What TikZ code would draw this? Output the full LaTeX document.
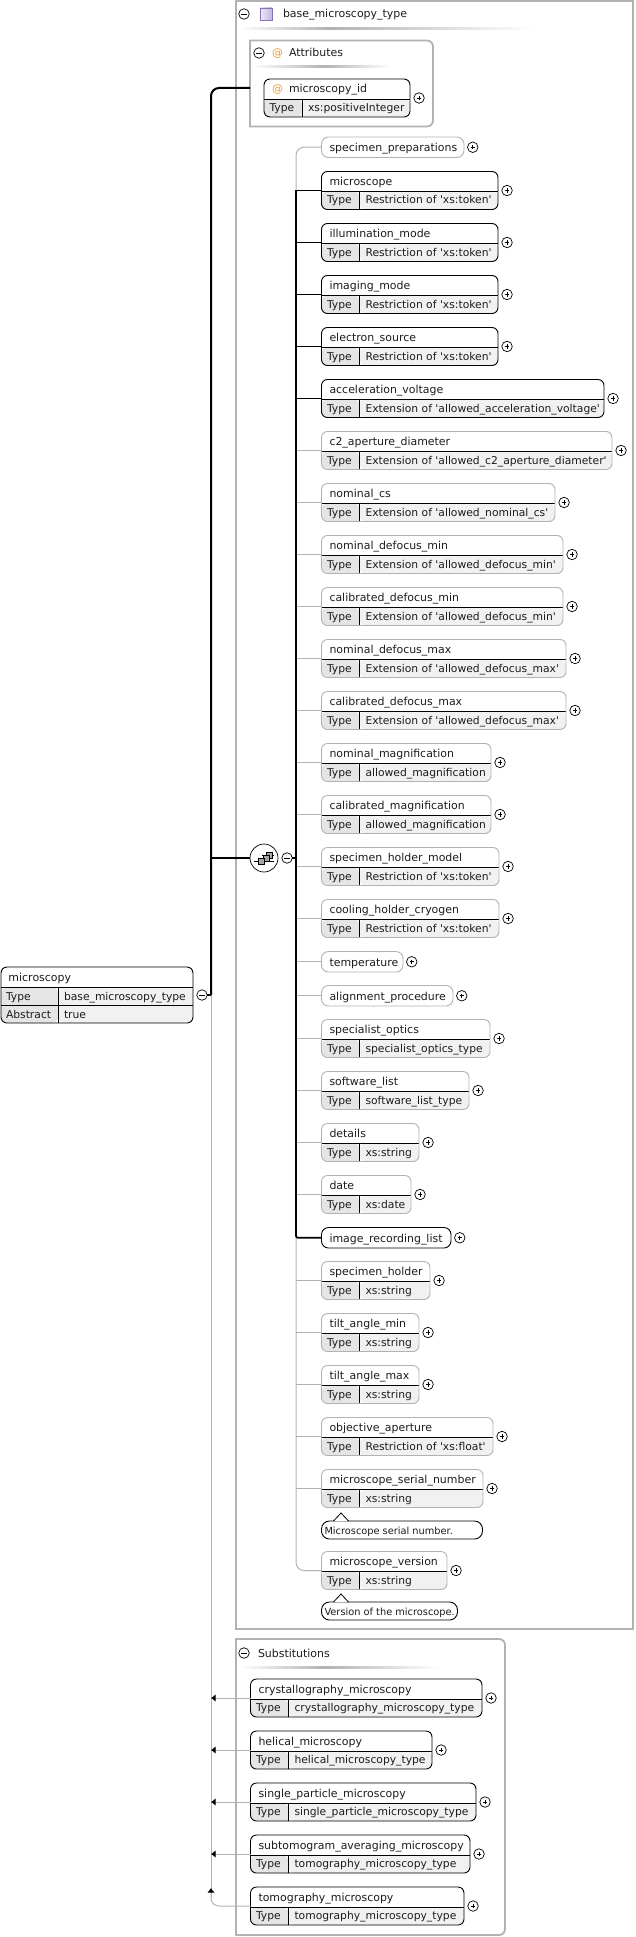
\documentclass[tikz,border=0pt]{standalone}
\usepackage{fontspec}
\usepackage{xcolor}
\usepackage{tikz}
\usetikzlibrary{arrows.meta, positioning}
\newfontfamily\diagfont{DejaVu Sans}
\definecolor{linegray}{HTML}{B2B2B2}
\definecolor{keycell}{HTML}{E5E5E5}
\definecolor{valcell}{HTML}{F1F1F1}
\definecolor{atsign}{HTML}{E59A38}
\definecolor{inktext}{HTML}{1C1C1C}
\definecolor{iconedge}{HTML}{8672B4}
\definecolor{iconlight}{HTML}{EDE8F6}
\definecolor{icondark}{HTML}{C4B6E0}

% element with a title row and a Type row
\newcommand{\elem}[8][8]{%
  \node[elembox, style/.expanded={#8}, minimum width={(#5-#3)*1pt}, minimum height=38pt,
    path picture={
      \fill[keycell] (path picture bounding box.north west) ++(0,20) rectangle ++(38,20);
      \fill[valcell] (path picture bounding box.north west) ++(38,20) rectangle (path picture bounding box.south east);
      \draw[draw=black, line width=.8pt] (path picture bounding box.north west) ++(0,20) -- ++(#5-#3,0);
      \draw[draw=black, line width=.8pt] (path picture bounding box.north west) ++(38,20) -- ++(0,20);
    }] (#2) at (#3,#4) {};
  \node[titletext] (#2-title) at ([shift={(#1,14)}]#2.north west) {#6};
  \node[labeltext] (#2-key) at ([shift={(5.5,32.5)}]#2.north west) {Type};
  \node[labeltext] (#2-val) at ([shift={(44,32.5)}]#2.north west) {#7};
  \node[plusnode, right=3.8pt of #2] (#2-plus) {};
}

\begin{document}
\begin{tikzpicture}[
  x=1pt, y=-1pt,
  labeltext/.style={inner sep=0, outer sep=0, anchor=base west, text=inktext, font=\fontsize{10.75}{12}\diagfont},
  titletext/.style={labeltext, font=\fontsize{10.95}{12}\diagfont},
  notetext/.style={inner sep=0, outer sep=0, anchor=base west, text=inktext, font=\fontsize{9.8}{12}\diagfont},
  elembox/.style={draw, rounded corners=6pt, inner sep=0, outer sep=0, anchor=north west, fill=white},
  reqbox/.style={draw=black, line width=.9pt},
  optbox/.style={draw=linegray, line width=.9pt},
  notebox/.style={draw=black, line width=.9pt, rounded corners=8pt, inner sep=0, outer sep=0, anchor=north west, minimum height=18pt, fill=white},
  circlenode/.style={circle, draw=black, line width=.7pt, fill=white, inner sep=0, outer sep=0, minimum size=10.5pt},
  plusnode/.style={circlenode, path picture={
      \draw[line width=.7pt] (path picture bounding box.center) ++(-2.2,0) -- ++(4.4,0);
      \draw[line width=.7pt] (path picture bounding box.center) ++(0,-2.2) -- ++(0,4.4);}},
  minusnode/.style={circlenode, path picture={
      \draw[line width=.7pt] (path picture bounding box.center) ++(-2.6,0) -- ++(5.2,0);}},
  groupline/.style={draw=linegray, line width=1.8pt},
  optline/.style={draw=linegray, line width=1pt},
  reqline/.style={draw=black, line width=1.5pt},
  boldline/.style={draw=black, line width=2pt},
  substarrow/.style={optline, -{Latex[black, length=4.5pt, width=7.5pt]}}
]
\useasboundingbox (0,0) rectangle (636,1937);

% containers
\draw[groupline] (236,.8) rectangle (633,1629);
\draw[groupline] (236,1639) -- (400,1639) [rounded corners=6pt] -- (505,1639) -- (505,1935) -- (400,1935) [sharp corners] -- (236,1935) -- cycle;
\draw[groupline] (250,40.5) -- (340,40.5) [rounded corners=6pt] -- (433,40.5) -- (433,126.5) -- (340,126.5) [sharp corners] -- (250,126.5) -- cycle;
\foreach \xa/\xb/\xc/\yy in {238/330/535/29, 252/325/390/67, 238/325/440/1667} {
  \shade[left color=white, right color=black!30] (\xa,\yy-1) rectangle (\xb,\yy+1);
  \shade[left color=black!30, right color=white] (\xb,\yy-1) rectangle (\xc,\yy+1);
}

\node[minusnode] (basetoggle) at (244,14) {};
\node[draw=iconedge, line width=.8pt, minimum size=12pt, inner sep=0, shade, left color=iconlight, right color=icondark] (baseicon) at (266,14) {};
\node[titletext] (basetitle) at (283,18) {base\_microscopy\_type};
\node[minusnode] (attrtoggle) at (259,53) {};
\node[titletext, text=atsign] (attrsign) at (272,57) {@};
\node[titletext] (attrtitle) at (289,57) {Attributes};
\node[minusnode] (substtoggle) at (244,1653) {};
\node[titletext] (substtitle) at (258,1657) {Substitutions};

% root element
\node[elembox, reqbox, minimum width=192pt, minimum height=56pt,
  path picture={
    \fill[keycell] (path picture bounding box.north west) ++(0,20) rectangle ++(57,36);
    \fill[valcell] (path picture bounding box.north west) ++(57,20) rectangle (path picture bounding box.south east);
    \draw[line width=.8pt] (path picture bounding box.north west) ++(0,20) -- ++(192,0);
    \draw[line width=.8pt] (path picture bounding box.north west) ++(0,38) -- ++(192,0);
    \draw[line width=.8pt] (path picture bounding box.north west) ++(57,20) -- ++(0,36);
  }] (microscopy) at (1,967) {};
\node[titletext] (microscopy-title) at (8.5,981) {microscopy};
\node[labeltext] (microscopy-typekey) at (6,1000) {Type};
\node[labeltext] (microscopy-typeval) at (64,1000) {base\_microscopy\_type};
\node[labeltext] (microscopy-abskey) at (6,1018) {Abstract};
\node[labeltext] (microscopy-absval) at (64,1018) {true};
\node[minusnode] (microscopytoggle) at (202,995) {};

% sequence symbol
\node[circlenode, minimum size=28pt] (seqgroup) at (264,858) {};
\node[minusnode, right=3.8pt of seqgroup] (seqtoggle) {};
\draw[line width=.9pt] ([shift={(-10,3)}]seqgroup.center) -- ++(20,0);
\draw[line width=.9pt] ([shift={(-2,-2.5)}]seqgroup.center) -- ++(12,0);
\foreach \dx/\dy in {5/-2.5, 2.5/0, -2.5/3} {
  \node[draw=black, fill=gray!70, line width=.6pt, minimum size=6pt, inner sep=0] at ([shift={(\dx,\dy)}]seqgroup.center) {};
}

% attribute
\elem[25]{mid}{264}{79}{410}{microscopy\_id}{xs:positiveInteger}{reqbox}
\node[titletext, text=atsign] (mid-sign) at (272,93) {@};

% content of the sequence
\foreach \nm/\yt/\xr/\ttl/\typ/\kind in {
  mic/171.5/498/microscope/Restriction of 'xs:token'/reqbox,
  illum/223.5/498/illumination\_mode/Restriction of 'xs:token'/reqbox,
  imaging/275.5/498/imaging\_mode/Restriction of 'xs:token'/reqbox,
  esource/327.5/498/electron\_source/Restriction of 'xs:token'/reqbox,
  accel/379.5/604/acceleration\_voltage/Extension of 'allowed\_acceleration\_voltage'/reqbox,
  caper/431.5/612/c2\_aperture\_diameter/Extension of 'allowed\_c2\_aperture\_diameter'/optbox,
  ncs/483.5/555/nominal\_cs/Extension of 'allowed\_nominal\_cs'/optbox,
  ndmin/535.5/563/nominal\_defocus\_min/Extension of 'allowed\_defocus\_min'/optbox,
  cdmin/587.5/563/calibrated\_defocus\_min/Extension of 'allowed\_defocus\_min'/optbox,
  ndmax/639.5/566/nominal\_defocus\_max/Extension of 'allowed\_defocus\_max'/optbox,
  cdmax/691.5/566/calibrated\_defocus\_max/Extension of 'allowed\_defocus\_max'/optbox,
  nmag/743.5/491/nominal\_magnification/allowed\_magnification/optbox,
  cmag/795.5/491/calibrated\_magnification/allowed\_magnification/optbox,
  hmodel/847.5/499/specimen\_holder\_model/Restriction of 'xs:token'/optbox,
  cryogen/899.5/499/cooling\_holder\_cryogen/Restriction of 'xs:token'/optbox,
  optics/1019.5/490/specialist\_optics/specialist\_optics\_type/optbox,
  softlist/1071.5/469/software\_list/software\_list\_type/optbox,
  details/1123.5/419/details/xs:string/optbox,
  date/1175.5/411/date/xs:date/optbox,
  holder/1261.5/430/specimen\_holder/xs:string/optbox,
  tiltmin/1313.5/419/tilt\_angle\_min/xs:string/optbox,
  tiltmax/1365.5/419/tilt\_angle\_max/xs:string/optbox,
  objap/1417.5/493/objective\_aperture/Restriction of 'xs:float'/optbox,
  serial/1469.5/483/microscope\_serial\_number/xs:string/optbox,
  version/1551.5/447/microscope\_version/xs:string/optbox%
} {
  \elem{\nm}{321.5}{\yt}{\xr}{\ttl}{\typ}{\kind}
}

% elements without a Type row
\foreach \nm/\yt/\xr/\ttl/\kind in {
  specprep/137/464/specimen\_preparations/optbox,
  temp/951.5/403/temperature/optbox,
  align/985.5/453/alignment\_procedure/optbox,
  imgrec/1227.5/451/image\_recording\_list/reqbox%
} {
  \node[elembox, style/.expanded={\kind}, rounded corners=7pt, minimum width={(\xr-321.5)*1pt}, minimum height=20.5pt] (\nm) at (321.5,\yt) {};
  \node[titletext] (\nm-title) at ([shift={(8,14.5)}]\nm.north west) {\ttl};
  \node[plusnode, right=3.5pt of \nm] (\nm-plus) {};
}

% substitutions
\foreach \nm/\yt/\xr/\ttl/\typ in {
  crystal/1679/482/crystallography\_microscopy/crystallography\_microscopy\_type,
  helical/1731/432/helical\_microscopy/helical\_microscopy\_type,
  single/1783/476/single\_particle\_microscopy/single\_particle\_microscopy\_type,
  subtomo/1835/470/subtomogram\_averaging\_microscopy/tomography\_microscopy\_type,
  tomo/1887/464/tomography\_microscopy/tomography\_microscopy\_type%
} {
  \elem{\nm}{250.5}{\yt}{\xr}{\ttl}{\typ}{reqbox}
}

% notes
\node[notebox, minimum width=161pt] (serialnote) at (321.5,1521) {};
\node[notetext] (serialnote-text) at ([shift={(3,13)}]serialnote.north west) {Microscope serial number.};
\node[notebox, minimum width=136pt] (versionnote) at (321.5,1602) {};
\node[notetext] (versionnote-text) at ([shift={(3,13)}]versionnote.north west) {Version of the microscope.};
\foreach \nm in {serialnote, versionnote} {
  \fill[white] ([xshift=12pt]\nm.north west) -- ([xshift=19.5pt,yshift=8pt]\nm.north west) -- ([xshift=27pt]\nm.north west) -- cycle;
  \draw[line width=.8pt] ([xshift=12pt]\nm.north west) -- ([xshift=19.5pt,yshift=8pt]\nm.north west) -- ([xshift=27pt]\nm.north west);
}

% connectors of the root element
\coordinate (trunk) at (211,995);
\coordinate (attrport) at (250,88);
\coordinate (bus) at (296,858);
\draw[optline] (trunk) -- (trunk |- tomo-title);
\foreach \nm in {crystal, helical, single, subtomo} {
  \draw[substarrow] (\nm.west) -- (trunk |- \nm.west);
}
\draw[optline, rounded corners=8pt] (tomo.west) -- (trunk |- tomo.west) -- (trunk |- tomo.north);
\draw[substarrow] ([yshift=-5.5pt]trunk |- tomo.north) -- ([yshift=-1pt]trunk |- tomo.north);
\draw[boldline, rounded corners=8pt] (trunk) |- (attrport);
\draw[reqline] (trunk |- seqgroup) -- (seqgroup);
\draw[boldline] (microscopytoggle.east) -- (trunk);

% connectors of the sequence
\draw[optline, rounded corners=8pt] (specprep.west) -| (bus |- mic.west);
\draw[optline, rounded corners=8pt] (version.west) -| (bus |- imgrec.west);
\foreach \nm in {caper, ncs, ndmin, cdmin, ndmax, cdmax, nmag, cmag, hmodel, cryogen, temp, align, optics, softlist, details, date, holder, tiltmin, tiltmax, objap, serial} {
  \draw[optline] (bus |- \nm.west) -- (\nm.west);
}
\foreach \nm in {mic, illum, imaging, esource, accel} {
  \draw[reqline] (bus |- \nm.west) -- (\nm.west);
}
\draw[line width=2.7pt] (bus |- mic.west) -- (bus);
\draw[reqline, line width=1.8pt, rounded corners=2pt] (bus) |- (imgrec.west);
\draw[boldline] (seqtoggle.east) -- (bus);
\end{tikzpicture}
\end{document}
